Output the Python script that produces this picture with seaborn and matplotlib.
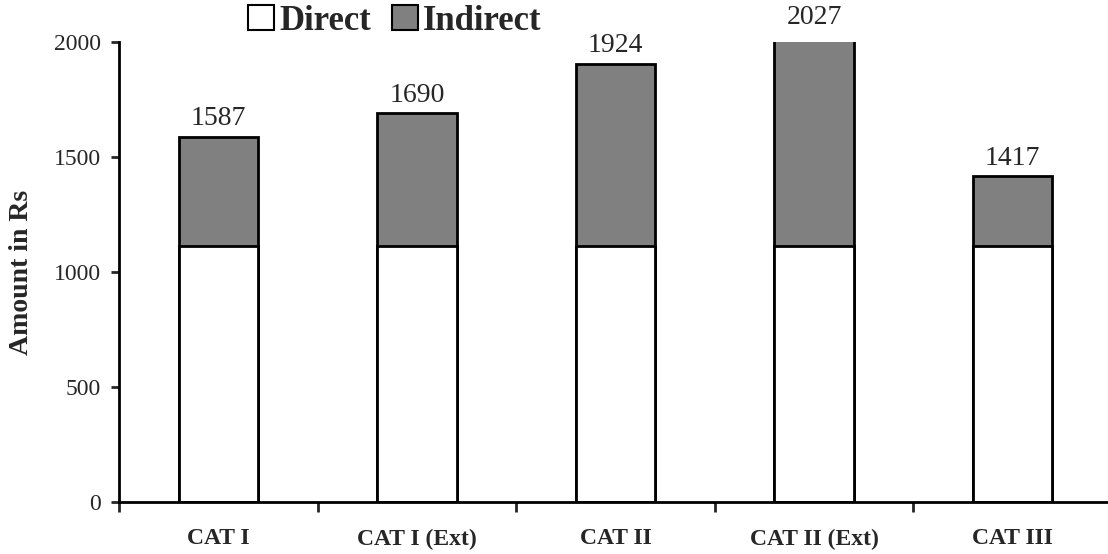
import matplotlib
matplotlib.use("Agg")
import matplotlib.pyplot as plt
import seaborn as sns
import pandas as pd
from matplotlib.patches import Patch
from matplotlib.ticker import FixedLocator

categories = ["CAT I", "CAT I (Ext)", "CAT II", "CAT II (Ext)", "CAT III"]
direct = [1113, 1113, 1113, 1113, 1113]
indirect = [474, 577, 792, 914, 304]
total_labels = ["1587", "1690", "1924", "2027", "1417"]

totals = [d + i for d, i in zip(direct, indirect)]
df = pd.DataFrame({"cat": categories, "direct": direct, "total": totals})

sns.set_style("white")
plt.rcParams["font.family"] = ["Liberation Serif", "DejaVu Serif"]

fig = plt.figure(figsize=(11.08, 5.54), dpi=100)
ax = fig.add_axes([119/1108, 1 - 502/554, (1112-119)/1108, (502-42)/554])

sns.barplot(data=df, x="cat", y="total", color="#808080", saturation=1,
            edgecolor="black", linewidth=2, width=0.4, ax=ax)
sns.barplot(data=df, x="cat", y="direct", color="white", saturation=1,
            edgecolor="black", linewidth=2, width=0.4, ax=ax)

ax.set_ylim(0, 2000)
ax.set_xlim(-0.5, 4.5)
ax.set_yticks([0, 500, 1000, 1500, 2000])
ax.tick_params(axis="y", labelsize=17, length=6, width=2, direction="out", left=True, pad=7)
ax.tick_params(axis="x", which="major", length=0, labelsize=17, pad=19)
ax.xaxis.set_minor_locator(FixedLocator([-0.5, 0.5, 1.5, 2.5, 3.5]))
ax.tick_params(axis="x", which="minor", length=7, width=2, direction="out", bottom=True)
for lab in ax.get_xticklabels():
    lab.set_fontweight("bold")
ax.set_xlabel("")
ax.set_ylabel("Amount in Rs", fontsize=20, fontweight="bold", labelpad=0)
ax.yaxis.set_label_coords(-(119 - 34) / 993, 0.5)

for side in ["top", "right"]:
    ax.spines[side].set_visible(False)
for side in ["left", "bottom"]:
    ax.spines[side].set_color("black")
    ax.spines[side].set_linewidth(2)

for i, (t, lab) in enumerate(zip(totals, total_labels)):
    ax.annotate(lab, xy=(i, t), xytext=(0, 4), textcoords="offset points",
                ha="center", va="bottom", fontsize=20, annotation_clip=False)

handles = [Patch(facecolor="white", edgecolor="black", linewidth=1.5, label="Direct"),
           Patch(facecolor="#808080", edgecolor="black", linewidth=1.5, label="Indirect")]
fig.legend(handles=handles, loc="center", bbox_to_anchor=(395/1108, 1 - 21/554), ncol=2,
           frameon=False, prop={"weight": "bold", "size": 25}, handlelength=0.75,
           handleheight=0.75, handletextpad=0.15, columnspacing=0.6, borderpad=0)

fig.savefig("out.png", dpi=100)
